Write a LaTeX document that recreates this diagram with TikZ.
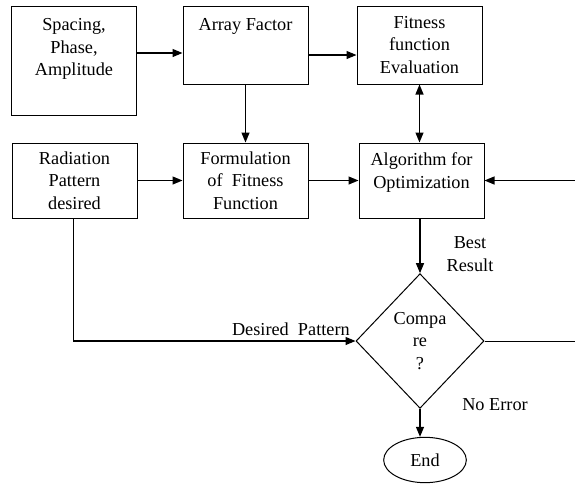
\documentclass[tikz,border=0pt]{standalone}
\usepackage{fontspec}
\setmainfont{Liberation Serif}
\usepackage{tikz}
\usetikzlibrary{shapes.geometric, arrows.meta, positioning, calc}

\tikzset{
    blk/.style={draw=black, line width=0.75pt, rectangle, align=center, inner sep=2pt},
    arr/.style={-{Triangle[length=7.5pt, width=6pt]}, line width=0.9pt},
    lbl/.style={align=center, inner sep=0pt}
}

\begin{document}
\begin{tikzpicture}[x=0.75pt, y=-0.75pt, font=\rmfamily\fontsize{13.7pt}{16.9pt}\selectfont]
            \useasboundingbox (0,0) rectangle (575,493);

            % Top row of blocks
            \node[blk, minimum width=93.75pt, minimum height=81.75pt,
                label={[lbl, anchor=north, yshift=-9.5pt]north:Spacing,\\Phase,\\Amplitude}]
                (par) at (74, 60.5) {};
            \node[blk, minimum width=93.75pt, minimum height=58.5pt,
                label={[lbl, anchor=north, yshift=-9.5pt]north:Array Factor}]
                (af) at (245.5, 45) {};
            \node[blk, minimum width=93.75pt, minimum height=58.5pt]
                (fe) at (419.5, 45) {Fitness\\function\\Evaluation};

            % Middle row of blocks
            \node[blk, minimum width=93.75pt, minimum height=56.25pt]
                (rad) at (74.5, 180.5) {Radiation\\Pattern\\desired};
            \node[blk, minimum width=93.75pt, minimum height=56.25pt]
                (ff) at (245.5, 180.5) {Formulation\\of~~Fitness\\Function};
            \node[blk, minimum width=93.75pt, minimum height=56.25pt,
                label={[lbl, anchor=north, yshift=-7.5pt]north:Algorithm for\\Optimization}]
                (alg) at (421.5, 180.5) {};

            % Decision and end
            \node[diamond, draw=black, line width=0.75pt, minimum width=96pt,
                minimum height=101pt, inner sep=0pt, align=center]
                (cmp) at (420, 341) {Compa\\re\\?};
            \node[ellipse, draw=black, line width=0.75pt, minimum width=62pt,
                minimum height=34pt, inner sep=0pt]
                (end) at (425, 460) {End};

            % Free ends at the right border
            \coordinate (rin) at (575, 180.5);
            \coordinate (rout) at (575, 341);
            \coordinate (j1) at ([yshift=-6pt]af.west);
            \coordinate (j2) at ([yshift=-7.5pt]fe.west);

            % Connectors
            \draw[arr] (j1 -| par.east) -- (j1);
            \draw[arr] (j2 -| af.east) -- (j2);
            \draw[arr] (af.south) -- (ff.north);
            \draw[{Triangle[length=7.5pt, width=6pt]}-{Triangle[length=7.5pt, width=6pt]}, line width=0.9pt]
                (fe.south) -- (fe.south |- alg.north);
            \draw[arr] (rad) -- (ff);
            \draw[arr] (ff) -- (alg);
            \draw[arr] (rin) -- (alg);
            \draw[arr] (alg.south -| cmp.north) -- (cmp.north);
            \draw[arr] ([xshift=-1pt]rad.south) |- (cmp.west);
            \draw[line width=0.75pt] (cmp.east) -- (rout);
            \draw[arr] (cmp.south) -- (cmp.south |- end.north);

            % Connector labels
            \node[lbl] (best) at (470, 254) {Best\\Result};
            \node[lbl, anchor=south east] (dpat) at (350, 336) {Desired~~Pattern};
            \node[lbl] (noerr) at (495, 405) {No Error};
        \end{tikzpicture}
\end{document}
